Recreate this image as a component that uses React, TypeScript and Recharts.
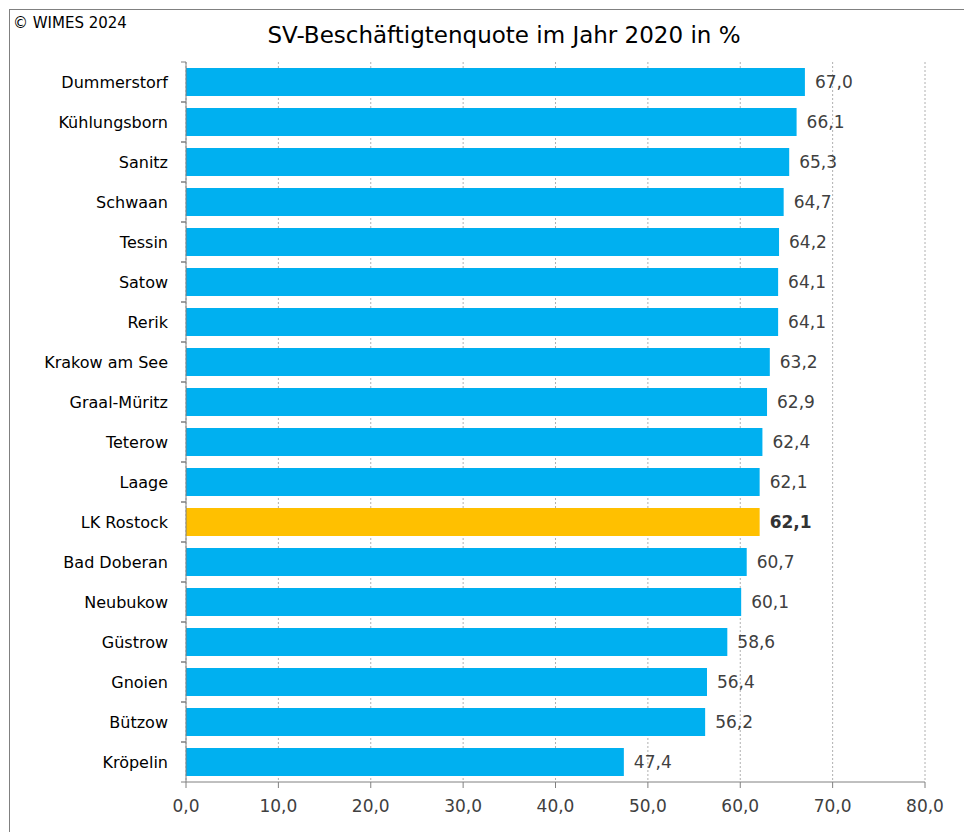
import { BarChart, Bar, XAxis, YAxis, CartesianGrid, Cell, LabelList } from 'recharts';

const categories = [
  'Dummerstorf',
  'Kühlungsborn',
  'Sanitz',
  'Schwaan',
  'Tessin',
  'Satow',
  'Rerik',
  'Krakow am See',
  'Graal-Müritz',
  'Teterow',
  'Laage',
  'LK Rostock',
  'Bad Doberan',
  'Neubukow',
  'Güstrow',
  'Gnoien',
  'Bützow',
  'Kröpelin',
];

const quote = [67.0, 66.1, 65.3, 64.7, 64.2, 64.1, 64.1, 63.2, 62.9, 62.4, 62.1, 62.1, 60.7, 60.1, 58.6, 56.4, 56.2, 47.4];

const xTicks = [0, 10, 20, 30, 40, 50, 60, 70, 80];

const highlight = 'LK Rostock';

const data = categories.map((name, i) => ({ name, value: quote[i] }));

const FONT = '"DejaVu Sans", Verdana, sans-serif';

const fmt = (v: number) => v.toFixed(1).replace('.', ',');

// label plus the short tick marks at the band edges
function CategoryTick(props: any) {
  const { x, y, payload } = props;
  return (
    <g>
      <line x1={x - 5} x2={x} y1={y - 20} y2={y - 20} stroke="#808080" />
      <line x1={x - 5} x2={x} y1={y + 20} y2={y + 20} stroke="#808080" />
      <text x={x - 18} y={y} dy={6} textAnchor="end" fontSize={16} fill="#000" fontFamily={FONT}>
        {payload.value}
      </text>
    </g>
  );
}

function ValueLabel(props: any) {
  const { x, y, width, height, value, index } = props;
  const bold = categories[index] === highlight;
  return (
    <text
      x={x + width + 10}
      y={y + height / 2}
      dy={6}
      fontSize={17}
      fontWeight={bold ? 'bold' : 'normal'}
      fill={bold ? '#333333' : '#404040'}
      fontFamily={FONT}
    >
      {fmt(value)}
    </text>
  );
}

export default function App() {
  return (
    <div style={{ position: 'absolute', left: 0, top: 0, width: 964, height: 832, background: '#fff', fontFamily: FONT }}>
      <div
        style={{
          position: 'absolute',
          left: 9,
          top: 9,
          right: 0,
          bottom: 0,
          borderLeft: '1px solid #808080',
          borderTop: '1px solid #808080',
        }}
      />
      <div style={{ position: 'absolute', left: 13, top: 14, fontSize: 15, color: '#000' }}>© WIMES 2024</div>
      <div
        style={{
          position: 'absolute',
          left: 186,
          width: 636,
          top: 22,
          textAlign: 'center',
          fontSize: 23,
          color: '#000',
        }}
      >
        SV-Beschäftigtenquote im Jahr 2020 in %
      </div>
      <BarChart
        width={964}
        height={832}
        data={data}
        layout="vertical"
        margin={{ top: 62, right: 39, bottom: 10, left: 10 }}
        barSize={28}
        style={{ position: 'absolute', left: 0, top: 0 }}
      >
        <CartesianGrid horizontal={false} stroke="#b0b0b0" strokeDasharray="2 2" />
        <XAxis
          type="number"
          domain={[0, 80]}
          ticks={xTicks}
          tickFormatter={fmt}
          stroke="#808080"
          height={40}
          tickSize={6}
          tickMargin={12}
          tick={{ fontSize: 17, fill: '#404040', fontFamily: FONT }}
        />
        <YAxis
          type="category"
          dataKey="name"
          width={176}
          stroke="#808080"
          tickLine={false}
          tickSize={0}
          tickMargin={0}
          tick={<CategoryTick />}
          interval={0}
        />
        <Bar dataKey="value" isAnimationActive={false}>
          {data.map((d) => (
            <Cell key={d.name} fill={d.name === highlight ? '#FFC000' : '#00B0F0'} />
          ))}
          <LabelList dataKey="value" content={<ValueLabel />} />
        </Bar>
      </BarChart>
    </div>
  );
}
